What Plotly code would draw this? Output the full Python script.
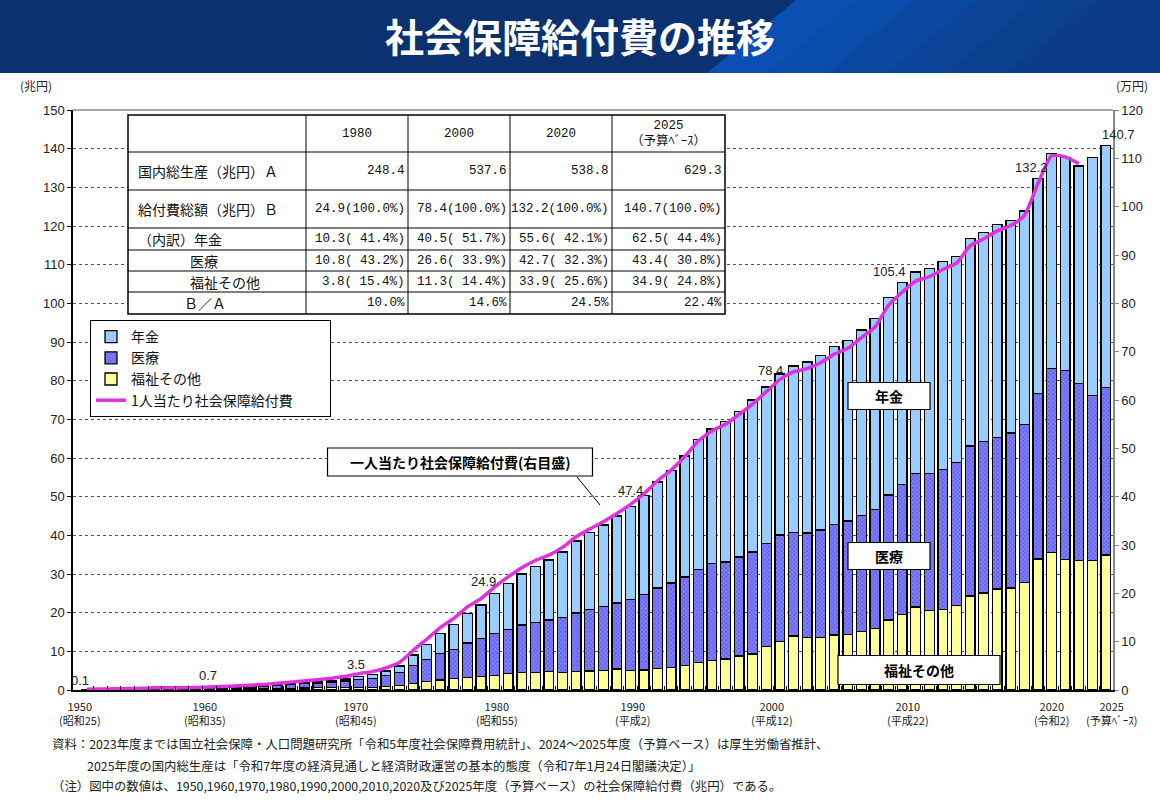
import plotly.graph_objects as go

# ---------------- data ----------------
years = list(range(1950, 2026))

# 福祉その他 (兆円)
welfare = [0.058, 0.069, 0.097, 0.109, 0.137, 0.176, 0.173, 0.194, 0.222, 0.245,
           0.281, 0.313, 0.344, 0.398, 0.443, 0.479, 0.541, 0.587, 0.661, 0.737,
           0.60, 0.73, 0.88, 1.11, 1.62, 2.17, 2.55, 2.89, 3.30, 3.46,
           3.8, 4.2, 4.5, 4.5, 4.7, 4.5, 4.7, 4.9, 5.1, 5.4,
           5.0, 5.2, 5.5, 5.8, 6.4, 7.1, 7.6, 8.0, 8.8, 9.3,
           11.3, 12.6, 14.0, 13.5, 13.5, 14.2, 14.4, 15.1, 15.9, 18.1,
           19.5, 21.5, 20.6, 20.9, 21.9, 24.3, 25.1, 26.1, 26.4, 27.8,
           33.9, 35.6, 33.8, 33.5, 33.5, 34.9]

# 医療 (兆円)
medical = [0.065, 0.084, 0.110, 0.139, 0.152, 0.192, 0.203, 0.217, 0.247, 0.271,
           0.294, 0.383, 0.469, 0.586, 0.732, 0.914, 1.065, 1.225, 1.401, 1.604,
           2.08, 2.25, 2.81, 3.43, 4.72, 5.71, 6.81, 7.60, 8.89, 9.80,
           10.8, 11.5, 12.3, 12.9, 13.4, 14.3, 15.2, 15.9, 16.5, 17.1,
           18.4, 19.5, 20.9, 21.9, 22.8, 24.1, 25.1, 25.1, 25.6, 26.4,
           26.6, 27.5, 26.7, 27.1, 27.9, 28.6, 29.3, 30.1, 30.8, 32.3,
           33.7, 34.5, 35.4, 36.2, 36.9, 38.8, 39.1, 39.2, 40.1, 40.9,
           42.7, 47.5, 48.8, 45.8, 42.7, 43.4]

# 年金 (兆円)
pension = [0.003, 0.006, 0.008, 0.009, 0.011, 0.021, 0.025, 0.027, 0.032, 0.045,
           0.085, 0.094, 0.117, 0.136, 0.165, 0.207, 0.264, 0.328, 0.408, 0.519,
           0.84, 1.02, 1.24, 1.68, 2.69, 3.89, 5.21, 6.40, 7.60, 8.69,
           10.3, 11.9, 13.2, 14.6, 15.5, 16.9, 18.6, 19.9, 21.1, 22.5,
           24.0, 25.6, 27.4, 29.1, 31.3, 33.5, 34.8, 36.3, 37.7, 39.3,
           40.5, 41.6, 43.1, 44.2, 45.1, 46.1, 46.7, 47.9, 49.3, 51.1,
           52.2, 52.1, 53.1, 53.7, 53.4, 53.7, 54.2, 55.1, 55.0, 55.2,
           55.6, 55.6, 55.2, 56.2, 61.6, 62.5]

# 1人当たり社会保障給付費 (万円), 1950-2023
percap_years = list(range(1950, 2024))
percap = [0.16, 0.19, 0.26, 0.30, 0.34, 0.44, 0.45, 0.49, 0.54, 0.61,
          0.70, 0.84, 0.98, 1.16, 1.38, 1.63, 1.89, 2.14, 2.44, 2.79,
          3.39, 3.80, 4.58, 5.69, 8.16, 10.5, 12.9, 14.8, 17.2, 18.9,
          21.3, 23.4, 25.3, 26.8, 27.9, 29.5, 31.7, 33.3, 34.8, 36.5,
          38.4, 40.6, 43.3, 45.5, 48.3, 51.5, 53.6, 55.0, 57.0, 59.2,
          61.7, 64.2, 65.8, 66.5, 67.7, 69.5, 70.7, 72.9, 75.1, 79.6,
          82.3, 84.6, 85.5, 87.0, 88.3, 91.9, 93.3, 95.0, 96.1, 98.2,
          104.8, 110.5, 110.3, 108.9]

# value labels on bars
label_years = [1950, 1960, 1970, 1980, 1990, 2000, 2010, 2020, 2025]
label_values = [0.1, 0.7, 3.5, 24.9, 47.4, 78.4, 105.4, 132.2, 140.7]

# x-axis labels
xlabel_years = [1950, 1960, 1970, 1980, 1990, 2000, 2010, 2020, 2025]
xlabel_texts = ["1950<br>(昭和25)", "1960<br>(昭和35)", "1970<br>(昭和45)", "1980<br>(昭和55)",
                "1990<br>(平成2)", "2000<br>(平成12)", "2010<br>(平成22)", "2020<br>(令和2)",
                "2025<br>(予算ﾍﾞｰｽ)"]

# table
table_cols = ["1980", "2000", "2020", "2025<br>（予算ﾍﾞｰｽ）"]
table_labels = ["国内総生産（兆円）Ａ", "給付費総額（兆円）Ｂ", "（内訳）年金", "医療", "福祉その他", "Ｂ／Ａ"]
table_gdp = ["248.4", "537.6", "538.8", "629.3"]
table_total = ["24.9(100.0%)", "78.4(100.0%)", "132.2(100.0%)", "140.7(100.0%)"]
table_pension = ["10.3( 41.4%)", "40.5( 51.7%)", "55.6( 42.1%)", "62.5( 44.4%)"]
table_medical = ["10.8( 43.2%)", "26.6( 33.9%)", "42.7( 32.3%)", "43.4( 30.8%)"]
table_welfare = ["3.8( 15.4%)", "11.3( 14.4%)", "33.9( 25.6%)", "34.9( 24.8%)"]
table_ratio = ["10.0%", "14.6%", "24.5%", "22.4%"]

legend_names = ["年金", "医療", "福祉その他", "1人当たり社会保障給付費"]

# ---------------- layout helpers ----------------
W, H = 1160, 806
L, R, T, B = 73, 1113, 110, 690


def px(x):
    return (x - L) / (R - L)


def py(y):
    return (B - y) / (B - T)


JP = "Noto Sans CJK JP"
MONO = "Liberation Mono, Noto Sans CJK JP"
SANS = "Liberation Sans, Arial"

fig = go.Figure()

fig.add_trace(go.Bar(x=years, y=welfare, name=legend_names[2], legendrank=3,
                     marker=dict(color="#ffff99", line=dict(color="black", width=1.3)),
                     width=0.72))
fig.add_trace(go.Bar(x=years, y=medical, name=legend_names[1], legendrank=2,
                     marker=dict(color="#8080ff", line=dict(color="black", width=1.3),
                                 pattern=dict(shape="x", fgcolor="#2a2ab0", size=3, solidity=0.4)),
                     width=0.72))
fig.add_trace(go.Bar(x=years, y=pension, name=legend_names[0], legendrank=1,
                     marker=dict(color="#99ccff", line=dict(color="black", width=1.3)),
                     width=0.72))
fig.add_trace(go.Scatter(x=percap_years, y=percap, name=legend_names[3] + "\u00a0" * 10, legendrank=4,
                         yaxis="y2", mode="lines",
                         line=dict(color="#e030e0", width=3.5, shape="spline", smoothing=0.6)))

shapes = []
annotations = []

# title bar
shapes.append(dict(type="rect", xref="paper", yref="paper", x0=px(0), x1=px(W), y0=py(73), y1=py(0),
                   fillcolor="#0c3170", line=dict(width=0), layer="above"))
band_cols = ["#0a50b2", "#0a4ca9", "#0a48a0", "#0b4497", "#0b408f", "#0c3c88"]
for i, c in enumerate(band_cols):
    off = i * 60
    p = [(796 + off, 0), (W, 0), (W, 73), (707 + off, 73)]
    path = "M " + " L ".join(f"{px(a):.5f},{py(b):.5f}" for a, b in p) + " Z"
    shapes.append(dict(type="path", xref="paper", yref="paper", path=path,
                       fillcolor=c, line=dict(width=0), layer="above"))
annotations.append(dict(xref="paper", yref="paper", x=px(580), y=py(35), text="<b>社会保障給付費の推移</b>",
                        showarrow=False, font=dict(family=JP, size=39, color="white"),
                        xanchor="center", yanchor="middle"))

# plot border top (gray solid)
shapes.append(dict(type="line", xref="paper", yref="paper", x0=0, x1=1, y0=1, y1=1,
                   line=dict(color="#888888", width=1.5), layer="above"))

# unit labels
annotations.append(dict(xref="paper", yref="paper", x=px(36), y=py(86), text="(兆円)", showarrow=False,
                        font=dict(family=JP, size=12, color="#222"), xanchor="center", yanchor="middle"))
annotations.append(dict(xref="paper", yref="paper", x=px(1132), y=py(86), text="(万円)", showarrow=False,
                        font=dict(family=JP, size=12, color="#222"), xanchor="center", yanchor="middle"))

# value labels
totals = {y: w + m + p for y, w, m, p in zip(years, welfare, medical, pension)}
label_shift = [(-7, 0), (-15, 2), (-3, 2), (-11, 3), (0, 7), (4, 7), (-13, 1), (-7, 2), (13, 2)]
for (yr, v), (dx, dy) in zip(zip(label_years, label_values), label_shift):
    annotations.append(dict(x=yr, y=totals[yr], xref="x", yref="y", text=f"{v:.1f}", showarrow=False,
                            xanchor="center", yanchor="bottom", xshift=dx, yshift=dy,
                            font=dict(family=SANS, size=13, color="#222")))

# x-axis labels
xlabel_pos = [1949.5, 1958.7, 1969.8, 1980.2, 1990.2, 2000.4, 2010.4, 2021.0, 2025.4]
for xp, txt in zip(xlabel_pos, xlabel_texts):
    annotations.append(dict(x=xp, y=py(696), xref="x", yref="paper", text=txt, showarrow=False,
                            xanchor="center", yanchor="top",
                            font=dict(family=JP, size=11, color="#222")))

# in-chart label boxes
def box(cx, cy, w, h, text, size=14):
    shapes.append(dict(type="rect", xref="paper", yref="paper", x0=px(cx - w / 2), x1=px(cx + w / 2),
                       y0=py(cy + h / 2), y1=py(cy - h / 2), fillcolor="white",
                       line=dict(color="black", width=1.2), layer="above"))
    annotations.append(dict(xref="paper", yref="paper", x=px(cx), y=py(cy), text=f"<b>{text}</b>",
                            showarrow=False, xanchor="center", yanchor="middle",
                            font=dict(family=JP, size=size, color="black")))


box(889, 396, 82, 27, "年金")
box(889, 556, 82, 27, "医療")
box(919, 670, 162, 29, "福祉その他")
box(460, 462, 265, 28, "一人当たり社会保障給付費(右目盛)", size=14)
shapes.append(dict(type="line", xref="paper", yref="paper", x0=px(577), y0=py(477), x1=px(600), y1=py(505),
                   line=dict(color="black", width=1), layer="above"))

# table
col_edges = [128, 306, 408, 510, 612, 725]
row_edges = [115, 152, 190, 228, 250, 271, 292, 314]
shapes.append(dict(type="rect", xref="paper", yref="paper", x0=px(col_edges[0]), x1=px(col_edges[-1]),
                   y0=py(row_edges[-1]), y1=py(row_edges[0]), fillcolor="white",
                   line=dict(color="black", width=1.5), layer="above"))
for ry in row_edges[1:-1]:
    shapes.append(dict(type="line", xref="paper", yref="paper", x0=px(col_edges[0]), x1=px(col_edges[-1]),
                       y0=py(ry), y1=py(ry), line=dict(color="black", width=1), layer="above"))
for cx in col_edges[1:-1]:
    shapes.append(dict(type="line", xref="paper", yref="paper", x0=px(cx), x1=px(cx),
                       y0=py(row_edges[-1]), y1=py(row_edges[0]), line=dict(color="black", width=1),
                       layer="above"))
hy = (row_edges[0] + row_edges[1]) / 2
for i, c in enumerate(table_cols):
    annotations.append(dict(xref="paper", yref="paper", x=px((col_edges[i + 1] + col_edges[i + 2]) / 2),
                            y=py(hy), text=c, showarrow=False, xanchor="center", yanchor="middle",
                            font=dict(family=MONO, size=12.5, color="#111")))
label_x = [136, 136, 136, 188, 188, 182]
rows = [table_gdp, table_total, table_pension, table_medical, table_welfare, table_ratio]
for r, (lab, vals) in enumerate(zip(table_labels, rows)):
    cy = (row_edges[r + 1] + row_edges[r + 2]) / 2
    annotations.append(dict(xref="paper", yref="paper", x=px(label_x[r]), y=py(cy), text=lab,
                            showarrow=False, xanchor="left", yanchor="middle",
                            font=dict(family=JP, size=14, color="#111")))
    for i, v in enumerate(vals):
        annotations.append(dict(xref="paper", yref="paper", x=px(col_edges[i + 2] - 1), y=py(cy), text=v,
                                showarrow=False, xanchor="right", yanchor="middle",
                                font=dict(family=MONO, size=12.5, color="#111")))

# footnotes
notes = [
    (50, 744, "資料：2023年度までは国立社会保障・人口問題研究所「令和5年度社会保障費用統計」、2024～2025年度（予算ベース）は厚生労働省推計、"),
    (85, 766, "2025年度の国内総生産は「令和7年度の経済見通しと経済財政運営の基本的態度（令和7年1月24日閣議決定）」"),
    (50, 786, "（注）図中の数値は、1950,1960,1970,1980,1990,2000,2010,2020及び2025年度（予算ベース）の社会保障給付費（兆円）である。"),
]
for x0, y0, t in notes:
    annotations.append(dict(xref="paper", yref="paper", x=px(x0), y=py(y0), text=t, showarrow=False,
                            xanchor="left", yanchor="middle", font=dict(family=JP, size=12.4, color="#222")))

fig.update_layout(
    width=W, height=H,
    margin=dict(l=L, r=W - R, t=T, b=H - B, pad=0),
    paper_bgcolor="white", plot_bgcolor="white",
    barmode="stack", bargap=0.28,
    showlegend=True,
    legend=dict(x=px(90), y=py(320), xanchor="left", yanchor="top", bgcolor="white",
                bordercolor="black", borderwidth=1, traceorder="normal",
                font=dict(family=JP, size=14, color="#111"), itemwidth=30, tracegroupgap=0),
    xaxis=dict(range=[1948.97, 2025.52], showgrid=False, zeroline=False,
               showline=True, linecolor="black", linewidth=1.5,
               tickmode="array", tickvals=[y + 0.5 for y in years[:-1]], ticks="inside",
               ticklen=4, tickcolor="black", showticklabels=False),
    yaxis=dict(range=[0, 150], dtick=10, tick0=0, showgrid=True, gridcolor="#555555", griddash="dot",
               gridwidth=1, zeroline=False, showline=True, linecolor="black", linewidth=1.5,
               ticks="outside", ticklen=4, tickcolor="black",
               tickfont=dict(family=SANS, size=13, color="#222")),
    yaxis2=dict(range=[0, 120], dtick=10, tick0=0, overlaying="y", side="right", showgrid=False,
                zeroline=False, showline=True, linecolor="#888888", linewidth=1.5,
                ticks="outside", ticklen=4, tickcolor="#888888",
                tickfont=dict(family=SANS, size=13, color="#222")),
    shapes=shapes, annotations=annotations,
    hovermode=False,
)

fig.write_html("out.html", config={"displayModeBar": False},
               post_script="document.body.style.margin='0';document.body.style.overflow='hidden';")
